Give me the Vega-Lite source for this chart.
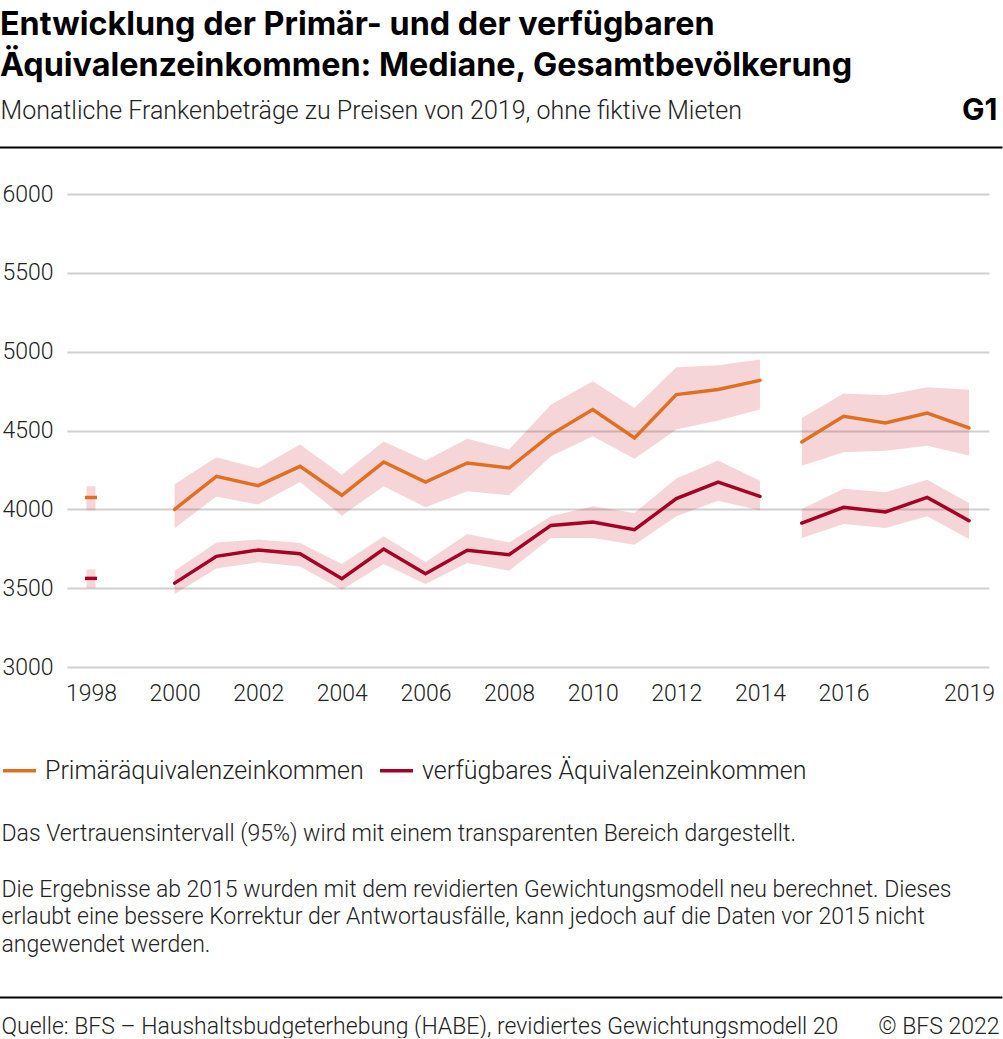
{
  "$schema": "https://vega.github.io/schema/vega-lite/v6.json",
  "width": 922,
  "height": 473,
  "padding": {"top": 8, "left": 0, "right": 0, "bottom": 0},
  "autosize": {"type": "pad"},
  "background": "white",
  "title": {
    "text": ["Entwicklung der Primär- und der verfügbaren", "Äquivalenzeinkommen: Mediane, Gesamtbevölkerung"],
    "anchor": "start",
    "frame": "bounds",
    "font": "Inter",
    "fontSize": 32.3,
    "fontWeight": 700,
    "lineHeight": 41,
    "color": "#000",
    "offset": 13
  },
  "config": {"view": {"stroke": null}, "font": "Roboto"},
  "layer": [
    {
      "data": {
        "values": [
          {"year": 1998, "series": "Primäräquivalenzeinkommen", "seg": "S0", "v": 4075, "lo": 3994, "hi": 4146},
          {"year": 2000, "series": "Primäräquivalenzeinkommen", "seg": "S1", "v": 4000, "lo": 3880, "hi": 4159},
          {"year": 2001, "series": "Primäräquivalenzeinkommen", "seg": "S1", "v": 4209, "lo": 4082, "hi": 4330},
          {"year": 2002, "series": "Primäräquivalenzeinkommen", "seg": "S1", "v": 4150, "lo": 4030, "hi": 4260},
          {"year": 2003, "series": "Primäräquivalenzeinkommen", "seg": "S1", "v": 4273, "lo": 4173, "hi": 4412},
          {"year": 2004, "series": "Primäräquivalenzeinkommen", "seg": "S1", "v": 4089, "lo": 3960, "hi": 4220},
          {"year": 2005, "series": "Primäräquivalenzeinkommen", "seg": "S1", "v": 4300, "lo": 4146, "hi": 4431},
          {"year": 2006, "series": "Primäräquivalenzeinkommen", "seg": "S1", "v": 4173, "lo": 4013, "hi": 4309},
          {"year": 2007, "series": "Primäräquivalenzeinkommen", "seg": "S1", "v": 4294, "lo": 4114, "hi": 4448},
          {"year": 2008, "series": "Primäräquivalenzeinkommen", "seg": "S1", "v": 4262, "lo": 4089, "hi": 4379},
          {"year": 2009, "series": "Primäräquivalenzeinkommen", "seg": "S1", "v": 4474, "lo": 4336, "hi": 4664},
          {"year": 2010, "series": "Primäräquivalenzeinkommen", "seg": "S1", "v": 4633, "lo": 4463, "hi": 4812},
          {"year": 2011, "series": "Primäräquivalenzeinkommen", "seg": "S1", "v": 4452, "lo": 4321, "hi": 4643},
          {"year": 2012, "series": "Primäräquivalenzeinkommen", "seg": "S1", "v": 4728, "lo": 4506, "hi": 4901},
          {"year": 2013, "series": "Primäräquivalenzeinkommen", "seg": "S1", "v": 4760, "lo": 4563, "hi": 4914},
          {"year": 2014, "series": "Primäräquivalenzeinkommen", "seg": "S1", "v": 4818, "lo": 4633, "hi": 4950},
          {"year": 2015, "series": "Primäräquivalenzeinkommen", "seg": "S2", "v": 4427, "lo": 4277, "hi": 4579},
          {"year": 2016, "series": "Primäräquivalenzeinkommen", "seg": "S2", "v": 4590, "lo": 4362, "hi": 4734},
          {"year": 2017, "series": "Primäräquivalenzeinkommen", "seg": "S2", "v": 4548, "lo": 4372, "hi": 4723},
          {"year": 2018, "series": "Primäräquivalenzeinkommen", "seg": "S2", "v": 4611, "lo": 4404, "hi": 4774},
          {"year": 2019, "series": "Primäräquivalenzeinkommen", "seg": "S2", "v": 4516, "lo": 4341, "hi": 4759},
          {"year": 1998, "series": "verfügbares Äquivalenzeinkommen", "seg": "S0", "v": 3562, "lo": 3500, "hi": 3619},
          {"year": 2000, "series": "verfügbares Äquivalenzeinkommen", "seg": "S1", "v": 3532, "lo": 3463, "hi": 3611},
          {"year": 2001, "series": "verfügbares Äquivalenzeinkommen", "seg": "S1", "v": 3702, "lo": 3624, "hi": 3790},
          {"year": 2002, "series": "verfügbares Äquivalenzeinkommen", "seg": "S1", "v": 3742, "lo": 3664, "hi": 3808},
          {"year": 2003, "series": "verfügbares Äquivalenzeinkommen", "seg": "S1", "v": 3719, "lo": 3638, "hi": 3786},
          {"year": 2004, "series": "verfügbares Äquivalenzeinkommen", "seg": "S1", "v": 3560, "lo": 3490, "hi": 3653},
          {"year": 2005, "series": "verfügbares Äquivalenzeinkommen", "seg": "S1", "v": 3748, "lo": 3653, "hi": 3829},
          {"year": 2006, "series": "verfügbares Äquivalenzeinkommen", "seg": "S1", "v": 3592, "lo": 3526, "hi": 3666},
          {"year": 2007, "series": "verfügbares Äquivalenzeinkommen", "seg": "S1", "v": 3740, "lo": 3659, "hi": 3843},
          {"year": 2008, "series": "verfügbares Äquivalenzeinkommen", "seg": "S1", "v": 3712, "lo": 3611, "hi": 3790},
          {"year": 2009, "series": "verfügbares Äquivalenzeinkommen", "seg": "S1", "v": 3898, "lo": 3818, "hi": 3956},
          {"year": 2010, "series": "verfügbares Äquivalenzeinkommen", "seg": "S1", "v": 3920, "lo": 3818, "hi": 4019},
          {"year": 2011, "series": "verfügbares Äquivalenzeinkommen", "seg": "S1", "v": 3871, "lo": 3776, "hi": 3977},
          {"year": 2012, "series": "verfügbares Äquivalenzeinkommen", "seg": "S1", "v": 4068, "lo": 3956, "hi": 4195},
          {"year": 2013, "series": "verfügbares Äquivalenzeinkommen", "seg": "S1", "v": 4173, "lo": 4055, "hi": 4309},
          {"year": 2014, "series": "verfügbares Äquivalenzeinkommen", "seg": "S1", "v": 4082, "lo": 3992, "hi": 4182},
          {"year": 2015, "series": "verfügbares Äquivalenzeinkommen", "seg": "S2", "v": 3913, "lo": 3818, "hi": 4002},
          {"year": 2016, "series": "verfügbares Äquivalenzeinkommen", "seg": "S2", "v": 4013, "lo": 3907, "hi": 4131},
          {"year": 2017, "series": "verfügbares Äquivalenzeinkommen", "seg": "S2", "v": 3983, "lo": 3881, "hi": 4108},
          {"year": 2018, "series": "verfügbares Äquivalenzeinkommen", "seg": "S2", "v": 4076, "lo": 3956, "hi": 4188},
          {"year": 2019, "series": "verfügbares Äquivalenzeinkommen", "seg": "S2", "v": 3928, "lo": 3812, "hi": 4040}
        ]
      },
      "encoding": {
        "x": {
          "field": "year",
          "type": "quantitative",
          "scale": {"domain": [1997.426, 2019.478], "nice": false, "zero": false},
          "axis": {
            "values": [1998, 2000, 2002, 2004, 2006, 2008, 2010, 2012, 2014, 2016, 2019],
            "format": "d",
            "grid": false,
            "ticks": false,
            "tickSize": 0,
            "domain": false,
            "labelFont": "Roboto",
            "labelFontSize": 23,
            "labelFontWeight": 300,
            "labelColor": "#222",
            "labelPadding": 15,
            "labelFlush": false,
            "labelOverlap": false,
            "title": [
              "Die Ergebnisse ab 2015 wurden mit dem revidierten Gewichtungsmodell neu berechnet. Dieses",
              "erlaubt eine bessere Korrektur der Antwortausfälle, kann jedoch auf die Daten vor 2015 nicht",
              "angewendet werden."
            ],
            "titleX": -66,
            "titleY": 229,
            "titleAlign": "left",
            "titleAnchor": "start",
            "titleBaseline": "alphabetic",
            "titleFont": "Roboto",
            "titleFontSize": 23,
            "titleFontWeight": 300,
            "titleColor": "#222",
            "titleLineHeight": 27.5
          }
        },
        "y": {
          "field": "v",
          "type": "quantitative",
          "scale": {"domain": [3000, 6000], "nice": false, "zero": false},
          "axis": {
            "values": [3000, 3500, 4000, 4500, 5000, 5500, 6000],
            "format": "d",
            "grid": true,
            "gridColor": "#d0d0d0",
            "gridWidth": 2,
            "ticks": false,
            "tickSize": 0,
            "domain": false,
            "labelAlign": "left",
            "labelBaseline": "middle",
            "labelPadding": 65,
            "labelFont": "Roboto",
            "labelFontSize": 23,
            "labelFontWeight": 300,
            "labelColor": "#222",
            "labelFlush": false,
            "title": "G1",
            "titleAngle": 0,
            "titleX": 930,
            "titleY": -75,
            "titleAlign": "right",
            "titleBaseline": "alphabetic",
            "titleFont": "Inter",
            "titleFontSize": 30,
            "titleFontWeight": 700,
            "titleColor": "#000"
          }
        }
      },
      "layer": [
        {
          "transform": [{"filter": "datum.year > 1998"}],
          "mark": {"type": "area", "color": "#d32f3c", "opacity": 0.2},
          "encoding": {
            "y": {"field": "lo", "type": "quantitative"},
            "y2": {"field": "hi"},
            "detail": [{"field": "series"}, {"field": "seg"}]
          }
        },
        {
          "transform": [{"filter": "datum.year == 1998"}],
          "mark": {"type": "rule", "color": "#d32f3c", "opacity": 0.2, "strokeWidth": 9},
          "encoding": {
            "y": {"field": "lo", "type": "quantitative"},
            "y2": {"field": "hi"}
          }
        },
        {
          "transform": [{"filter": "datum.year > 1998"}],
          "mark": {"type": "line", "strokeWidth": 3.5, "strokeCap": "round"},
          "encoding": {
            "color": {
              "field": "series",
              "type": "nominal",
              "scale": {"domain": ["Primäräquivalenzeinkommen", "verfügbares Äquivalenzeinkommen"], "range": ["#e0701f", "#a50026"]},
              "legend": {
                "orient": "none",
                "legendX": -66,
                "legendY": 558,
                "direction": "horizontal",
                "title": null,
                "symbolType": "stroke",
                "symbolSize": 1089,
                "symbolStrokeWidth": 3.5,
                "labelFont": "Roboto",
                "labelFontSize": 25,
                "labelFontWeight": 300,
                "labelColor": "#222",
                "labelOffset": 7,
                "labelLimit": 0,
                "columnPadding": 9,
                "padding": 0
              }
            },
            "detail": {"field": "seg"}
          }
        },
        {
          "transform": [{"filter": "datum.year == 1998"}],
          "mark": {"type": "tick", "orient": "horizontal", "size": 12, "thickness": 3.5, "opacity": 1},
          "encoding": {
            "color": {"field": "series", "type": "nominal", "legend": null}
          }
        }
      ]
    },
    {
      "data": {"values": []},
      "mark": {"type": "point", "opacity": 0},
      "encoding": {
        "x": {
          "field": "d",
          "type": "quantitative",
          "scale": {"domain": [0, 1], "range": [-68, 935], "nice": false, "zero": false},
          "axis": {
            "orient": "top",
            "offset": 47,
            "domain": true,
            "domainColor": "#000",
            "domainWidth": 2,
            "ticks": false,
            "labels": false,
            "grid": false,
            "title": "Monatliche Frankenbeträge zu Preisen von 2019, ohne fiktive Mieten",
            "titleX": -67,
            "titleY": -29,
            "titleAlign": "left",
            "titleAnchor": "start",
            "titleBaseline": "alphabetic",
            "titleFont": "Roboto",
            "titleFontSize": 25,
            "titleFontWeight": 300,
            "titleColor": "#222"
          }
        },
        "y": {
          "field": "d",
          "type": "quantitative",
          "scale": {"domain": [0, 1]},
          "axis": {
            "orient": "left",
            "domain": false,
            "ticks": false,
            "labels": false,
            "grid": false,
            "title": "Das Vertrauensintervall (95%) wird mit einem transparenten Bereich dargestellt.",
            "titleAngle": 0,
            "titleX": -66,
            "titleY": 646,
            "titleAlign": "left",
            "titleBaseline": "alphabetic",
            "titleFont": "Roboto",
            "titleFontSize": 23,
            "titleFontWeight": 300,
            "titleColor": "#222"
          }
        }
      }
    },
    {
      "data": {"values": []},
      "mark": {"type": "point", "opacity": 0},
      "encoding": {
        "x": {
          "field": "d",
          "type": "quantitative",
          "scale": {"domain": [0, 1], "range": [-68, 935], "nice": false, "zero": false},
          "axis": {
            "orient": "bottom",
            "offset": 330,
            "domain": true,
            "domainColor": "#000",
            "domainWidth": 2,
            "ticks": false,
            "labels": false,
            "grid": false,
            "title": "Quelle: BFS – Haushaltsbudgeterhebung (HABE), revidiertes Gewichtungsmodell 20",
            "titleX": -66,
            "titleY": 36,
            "titleAlign": "left",
            "titleAnchor": "start",
            "titleBaseline": "alphabetic",
            "titleFont": "Roboto",
            "titleFontSize": 23,
            "titleFontWeight": 300,
            "titleColor": "#222"
          }
        },
        "y": {
          "field": "d",
          "type": "quantitative",
          "scale": {"domain": [0, 1]},
          "axis": {
            "orient": "right",
            "domain": false,
            "ticks": false,
            "labels": false,
            "grid": false,
            "title": "© BFS 2022",
            "titleAngle": 0,
            "titleX": 10,
            "titleY": 839,
            "titleAlign": "right",
            "titleBaseline": "alphabetic",
            "titleFont": "Roboto",
            "titleFontSize": 23,
            "titleFontWeight": 300,
            "titleColor": "#222"
          }
        }
      }
    }
  ],
  "resolve": {
    "scale": {"x": "independent", "y": "independent"},
    "axis": {"x": "independent", "y": "independent"}
  }
}
